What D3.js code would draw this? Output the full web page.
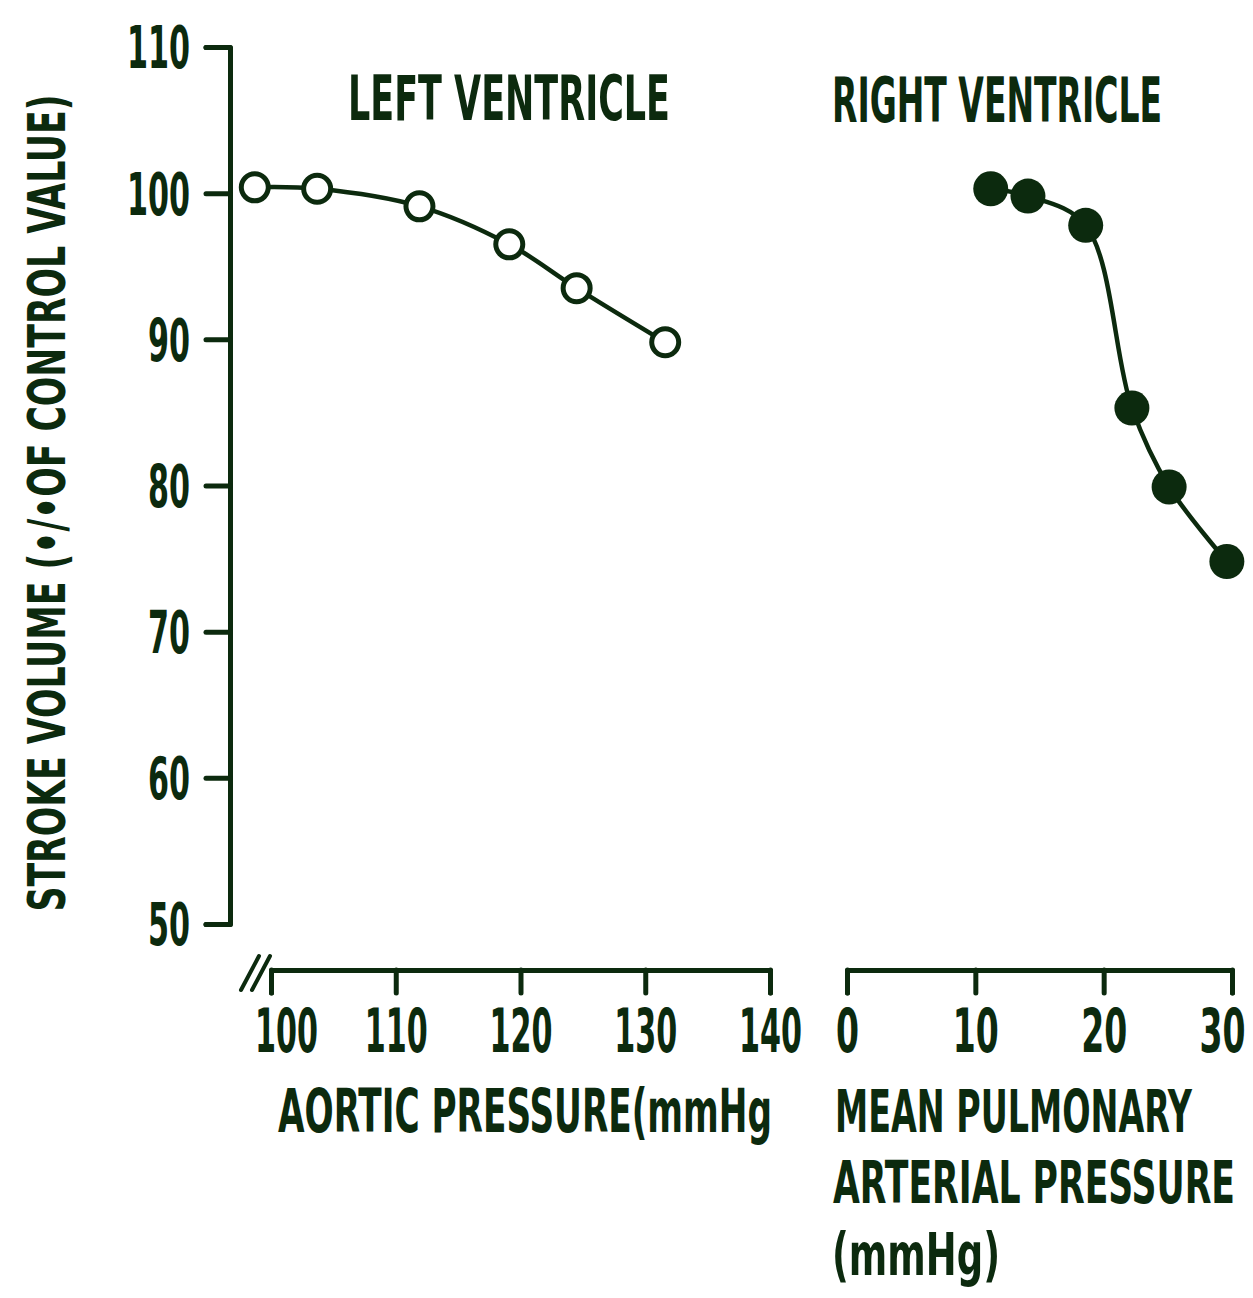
<!DOCTYPE html>
<html>
<head>
<meta charset="utf-8">
<script src="https://cdn.jsdelivr.net/npm/d3@7"></script>
<style>
  body { margin: 0; background: #fff; }
  svg text { font-family: "DejaVu Sans Condensed", "DejaVu Sans", sans-serif; font-weight: bold; fill: #0c2a0e; }
</style>
</head>
<body>
<svg id="chart" width="1253" height="1298"></svg>
<script>
// stroke volume, left ventricle vs aortic pressure (open circles)
var aorticPressure = [98.7, 103.7, 111.9, 119.1, 124.5, 131.6];
var leftStrokeVol  = [100.4, 100.3, 99.1, 96.5, 93.5, 89.8];

// stroke volume, right ventricle vs mean pulmonary arterial pressure (filled)
var pulmPressure   = [11.2, 14.1, 18.6, 22.2, 25.1, 29.6];
var rightStrokeVol = [100.3, 99.8, 97.8, 85.3, 79.9, 74.8];

var yTicks = [50, 60, 70, 80, 90, 100, 110];
var leftXTicks = [100, 110, 120, 130, 140];
var rightXTicks = [0, 10, 20, 30];

var ink = "#0c2a0e";
var svg = d3.select("#chart");

var y = d3.scaleLinear().domain([50, 110]).range([924, 47]);
var xL = d3.scaleLinear().domain([100, 140]).range([271, 770]);
var xR = d3.scaleLinear().domain([0, 30]).range([847, 1232]);
var axisY = 970;

function styleAxis(g) {
  g.selectAll("path, line")
    .attr("stroke", ink)
    .attr("stroke-width", 5)
    .attr("stroke-linecap", "round")
    .attr("stroke-linejoin", "round")
    .attr("fill", "none");
  g.selectAll("text").attr("fill", ink);
}

// y axis
var gy = svg.append("g")
    .attr("transform", "translate(230,0)")
    .call(d3.axisLeft(y).tickValues(yTicks).tickSize(24).tickFormat(d3.format("d")));
styleAxis(gy);
gy.selectAll(".tick text")
    .attr("x", -40)
    .attr("dy", "0.36em")
    .style("font-size", "58px")
    .attr("textLength", function(d) { return String(d).length * 21; })
    .attr("lengthAdjust", "spacingAndGlyphs");

// left x axis
var gxl = svg.append("g")
    .attr("transform", "translate(0," + axisY + ")")
    .call(d3.axisBottom(xL).tickValues(leftXTicks).tickSize(23).tickFormat(d3.format("d")));
styleAxis(gxl);
gxl.selectAll(".tick text")
    .attr("y", 82).attr("dy", 0)
    .attr("x", function(d, i) { return i === 0 ? 15 : 0; })
    .style("font-size", "60px")
    .attr("textLength", function(d) { return String(d).length * 21; })
    .attr("lengthAdjust", "spacingAndGlyphs");

// axis break marks
[0, 11].forEach(function(o) {
  svg.append("line")
    .attr("x1", xL(100) - 30 + o).attr("y1", axisY + 20)
    .attr("x2", xL(100) - 12 + o).attr("y2", axisY - 14)
    .attr("stroke", ink).attr("stroke-width", 4).attr("stroke-linecap", "round");
});

// right x axis
var gxr = svg.append("g")
    .attr("transform", "translate(0," + axisY + ")")
    .call(d3.axisBottom(xR).tickValues(rightXTicks).tickSize(23).tickFormat(d3.format("d")));
styleAxis(gxr);
gxr.selectAll(".tick text")
    .attr("y", 82).attr("dy", 0)
    .attr("x", function(d, i) { return i === 3 ? -10 : 0; })
    .style("font-size", "60px")
    .attr("textLength", function(d) { return String(d).length * 23; })
    .attr("lengthAdjust", "spacingAndGlyphs");

// curves
var leftData = aorticPressure.map(function(p, i) { return { x: p, v: leftStrokeVol[i] }; });
var rightData = pulmPressure.map(function(p, i) { return { x: p, v: rightStrokeVol[i] }; });

var lineL = d3.line().curve(d3.curveCatmullRom.alpha(0.5))
    .x(function(d) { return xL(d.x); }).y(function(d) { return y(d.v); });
var lineR = d3.line().curve(d3.curveCatmullRom.alpha(0.5))
    .x(function(d) { return xR(d.x); }).y(function(d) { return y(d.v); });

svg.append("path").datum(leftData).attr("d", lineL)
    .attr("fill", "none").attr("stroke", ink).attr("stroke-width", 4.5);
svg.append("path").datum(rightData).attr("d", lineR)
    .attr("fill", "none").attr("stroke", ink).attr("stroke-width", 4.5);

svg.selectAll(".open").data(leftData).enter().append("circle")
    .attr("class", "open")
    .attr("cx", function(d) { return xL(d.x); })
    .attr("cy", function(d) { return y(d.v); })
    .attr("r", 13.5)
    .attr("fill", "#fff").attr("stroke", ink).attr("stroke-width", 5);

svg.selectAll(".filled").data(rightData).enter().append("circle")
    .attr("class", "filled")
    .attr("cx", function(d) { return xR(d.x); })
    .attr("cy", function(d) { return y(d.v); })
    .attr("r", 17.5)
    .attr("fill", ink);

// titles and labels
function label(txt, x, yy, size, width) {
  return svg.append("text")
    .attr("x", x).attr("y", yy)
    .style("font-size", size + "px")
    .attr("textLength", width)
    .attr("lengthAdjust", "spacingAndGlyphs")
    .text(txt);
}

label("LEFT VENTRICLE", 348, 120, 62, 322);
label("RIGHT VENTRICLE", 832, 122, 62, 330);
label("AORTIC PRESSURE(mmHg", 278, 1132, 60, 494);
label("MEAN PULMONARY", 835, 1132, 58, 357);
label("ARTERIAL PRESSURE", 833, 1203, 58, 402);
label("(mmHg)", 832, 1275, 58, 168);

svg.append("text")
    .attr("transform", "translate(65,503) rotate(-90)")
    .attr("text-anchor", "middle")
    .style("font-size", "52px")
    .attr("textLength", 817)
    .attr("lengthAdjust", "spacingAndGlyphs")
    .text("STROKE VOLUME (•/•OF CONTROL VALUE)");
</script>
</body>
</html>
